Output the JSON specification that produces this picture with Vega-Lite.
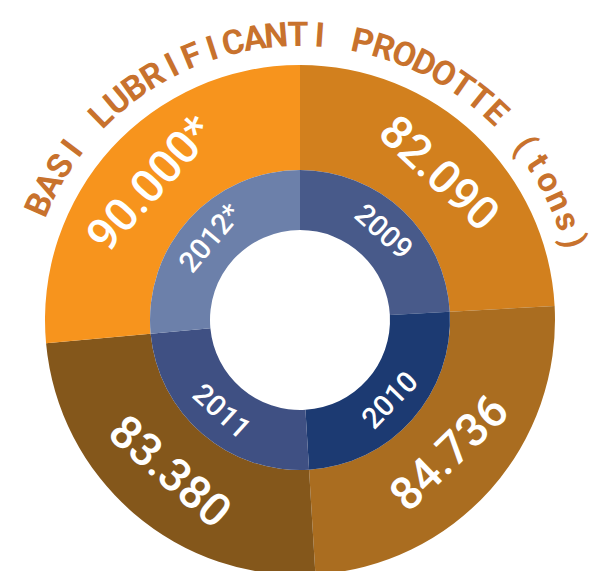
{
  "$schema": "https://vega.github.io/schema/vega-lite/v6.json",
  "autosize": "none",
  "width": 594,
  "height": 502,
  "padding": {"left": 3, "top": 69, "right": 0, "bottom": 0},
  "background": "white",
  "config": {"view": {"stroke": null}},
  "datasets": {
    "prod": [
      {"year": "2009", "tons": 82090, "label": "82.090"},
      {"year": "2010", "tons": 84736, "label": "84.736"},
      {"year": "2011", "tons": 83380, "label": "83.380"},
      {"year": "2012*", "tons": 90000, "label": "90.000*"}
    ],
    "title": [
      {"i": 0, "ch": "B"}, {"i": 1, "ch": "A"}, {"i": 2, "ch": "S"}, {"i": 3, "ch": "I"},
      {"i": 4, "ch": " "},
      {"i": 5, "ch": "L"}, {"i": 6, "ch": "U"}, {"i": 7, "ch": "B"}, {"i": 8, "ch": "R"},
      {"i": 9, "ch": "I"}, {"i": 10, "ch": "F"}, {"i": 11, "ch": "I"}, {"i": 12, "ch": "C"},
      {"i": 13, "ch": "A"}, {"i": 14, "ch": "N"}, {"i": 15, "ch": "T"}, {"i": 16, "ch": "I"},
      {"i": 17, "ch": " "},
      {"i": 18, "ch": "P"}, {"i": 19, "ch": "R"}, {"i": 20, "ch": "O"}, {"i": 21, "ch": "D"},
      {"i": 22, "ch": "O"}, {"i": 23, "ch": "T"}, {"i": 24, "ch": "T"}, {"i": 25, "ch": "E"},
      {"i": 26, "ch": " "},
      {"i": 27, "ch": "("}, {"i": 28, "ch": "t"}, {"i": 29, "ch": "o"}, {"i": 30, "ch": "n"},
      {"i": 31, "ch": "s"}, {"i": 32, "ch": ")"}
    ]
  },
  "layer": [
    {
      "data": {"name": "prod"},
      "layer": [
        {
          "mark": {"type": "arc", "innerRadius": 150, "outerRadius": 255},
          "encoding": {
            "theta": {"field": "tons", "type": "quantitative", "stack": true},
            "order": {"field": "year", "type": "ordinal", "sort": "ascending"},
            "color": {
              "field": "year", "type": "nominal", "legend": null,
              "scale": {"domain": ["2009", "2010", "2011", "2012*"], "range": ["#D2801E", "#AA6D20", "#84571B", "#F7941D"]}
            }
          }
        },
        {
          "mark": {"type": "arc", "innerRadius": 90, "outerRadius": 150},
          "encoding": {
            "theta": {"field": "tons", "type": "quantitative", "stack": true},
            "order": {"field": "year", "type": "ordinal", "sort": "ascending"},
            "color": {
              "field": "year", "type": "nominal", "legend": null,
              "scale": {"domain": ["2009", "2010", "2011", "2012*"], "range": ["#485A8A", "#1C3A72", "#3F5083", "#6C80AA"]}
            }
          }
        },
        {
          "mark": {"type": "text", "radius": 201, "fontSize": 46, "font": "Roboto", "fontWeight": 500, "color": "white", "align": "center", "baseline": "middle"},
          "encoding": {
            "theta": {"field": "tons", "type": "quantitative", "stack": true},
            "order": {"field": "year", "type": "ordinal", "sort": "ascending"},
            "detail": {"field": "year", "type": "nominal"},
            "text": {"field": "label", "type": "nominal"},
            "angle": {
              "condition": [
                {"test": "datum.year === '2009'", "value": 43},
                {"test": "datum.year === '2010'", "value": -44},
                {"test": "datum.year === '2011'", "value": 41}
              ],
              "value": -48
            }
          }
        },
        {
          "mark": {"type": "text", "radius": 121, "fontSize": 29, "font": "Roboto", "fontWeight": 500, "color": "white", "align": "center", "baseline": "middle"},
          "encoding": {
            "theta": {"field": "tons", "type": "quantitative", "stack": true},
            "order": {"field": "year", "type": "ordinal", "sort": "ascending"},
            "detail": {"field": "year", "type": "nominal"},
            "text": {"field": "year", "type": "nominal"},
            "angle": {
              "condition": [
                {"test": "datum.year === '2009'", "value": 42},
                {"test": "datum.year === '2010'", "value": -46},
                {"test": "datum.year === '2011'", "value": 42}
              ],
              "value": -50
            }
          }
        }
      ],
      "resolve": {"scale": {"color": "independent"}}
    },
    {
      "data": {"name": "title"},
      "mark": {"type": "text", "radius": 284, "fontSize": 34, "font": "Roboto", "fontWeight": "bold", "color": "#C8722D", "align": "center", "baseline": "middle"},
      "encoding": {
        "theta": {"field": "i", "type": "quantitative", "stack": false, "scale": {"domain": [0, 32], "range": [-1.1537, 1.2915]}},
        "angle": {"field": "i", "type": "quantitative", "scale": {"domain": [0, 32], "range": [-66.1, 74]}},
        "text": {"field": "ch", "type": "nominal"}
      }
    }
  ],
  "resolve": {"scale": {"theta": "independent"}}
}
